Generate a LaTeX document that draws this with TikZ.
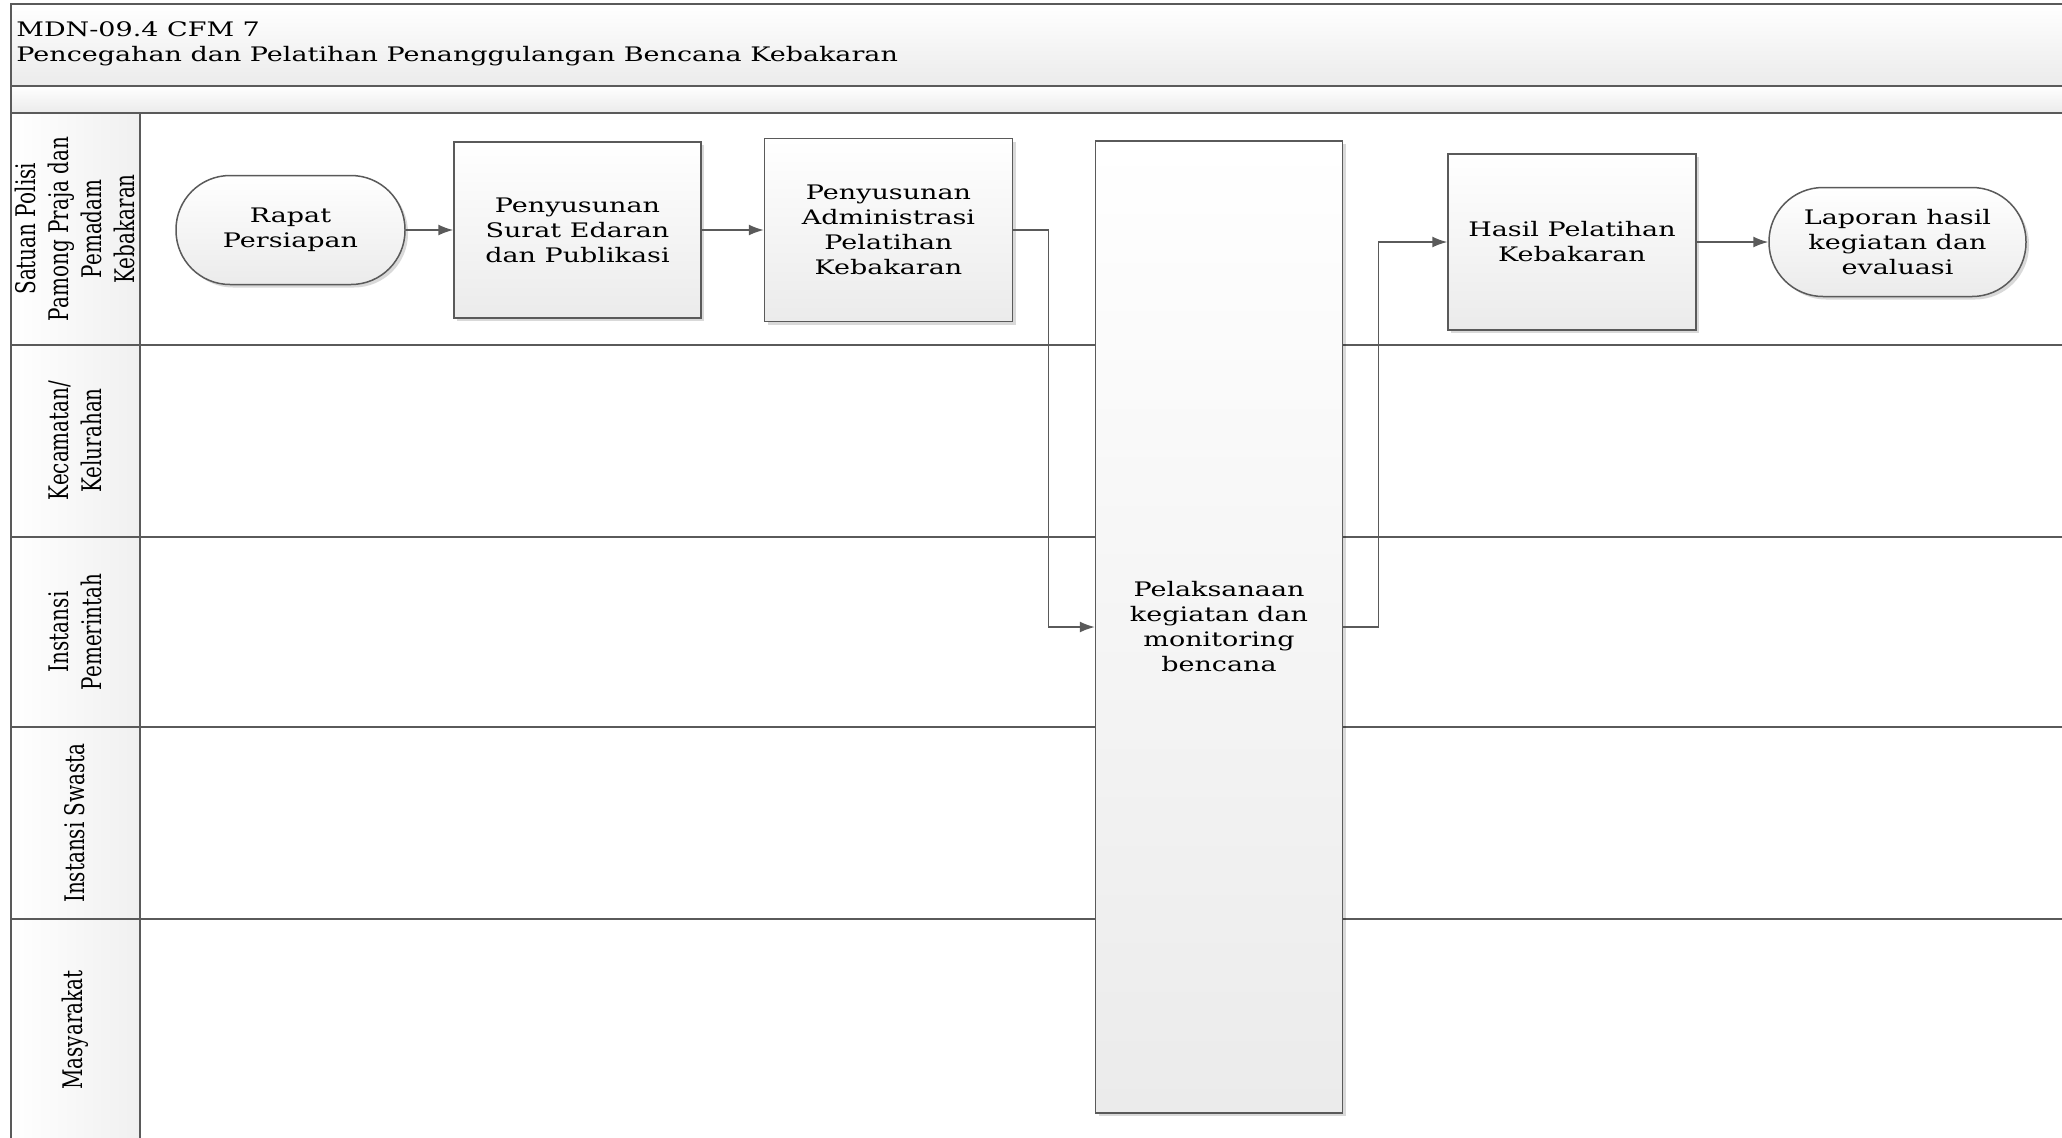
\documentclass[tikz,border=0pt]{standalone}
\usepackage{fontspec}
\setmainfont{DejaVu Serif}[FakeStretch=1.35]
\newfontfamily\lanefont{DejaVu Serif}[FakeStretch=0.74]
\usetikzlibrary{arrows.meta,shadows}

\definecolor{linegray}{HTML}{5A5A5A}
\definecolor{fillgray}{HTML}{EBEBEB}
\definecolor{lanegray}{HTML}{F0F0F0}

\tikzset{
  process/.style={rectangle, draw=linegray, line width=0.75pt, top color=white, bottom color=fillgray,
    minimum width=124pt, minimum height=88pt, inner sep=2pt, align=center,
    font=\fontsize{10}{12.5}\selectfont,
    drop shadow={shadow xshift=1.5pt, shadow yshift=-1.5pt, opacity=0.15, fill=black}},
  terminal/.style={process, rounded corners=27pt, minimum height=54.5pt},
  lane/.style={draw=linegray, line width=1pt},
  lanelabel/.style={rotate=90, align=center, inner sep=0pt, font=\lanefont\fontsize{13.5}{16.5}\selectfont},
  flow/.style={draw=linegray, line width=0.75pt, -{Latex[length=7.5pt,width=5.5pt]}},
}

\begin{document}
\begin{tikzpicture}[x=0.5pt, y=-0.5pt]
        \clip (0,0) rectangle (2062,1137);

        % Header
        \draw[lane, top color=white, bottom color=fillgray] (10.5,4) rectangle (2080,85.5);
        \draw[lane, top color=white, bottom color=fillgray] (10.5,85.5) rectangle (2080,113);
        \node (title) at (16,44) [anchor=west, align=left, inner sep=0pt, font=\fontsize{10}{12.5}\selectfont]
          {MDN-09.4 CFM 7\\Pencegahan dan Pelatihan Penanggulangan Bencana Kebakaran};

        % Lanes
        \foreach \ya/\yb in {113/344.5, 344.5/536.5, 536.5/727, 727/919, 919/1150} {
          \draw[lane] (10.5,\ya) rectangle (2080,\yb);
          \draw[lane, left color=white, right color=lanegray] (10.5,\ya) rectangle (139.5,\yb);
        }
        \node (satpol)  at (75,228.8) [lanelabel] {Satuan Polisi\\Pamong Praja dan\\Pemadam\\Kebakaran};
        \node (kec)     at (75,440.5) [lanelabel] {Kecamatan/\\Kelurahan};
        \node (pemda)   at (75,631.8) [lanelabel] {Instansi\\Pemerintah};
        \node (swasta)  at (75,823)   [lanelabel] {Instansi Swasta};
        \node (masy)    at (75,1030)  [lanelabel] {Masyarakat};

        % Nodes
        \node (rapat)   at (290.5,230)   [terminal, minimum width=114.5pt] {Rapat\\Persiapan};
        \node (surat)   at (577.5,230)   [process, minimum width=123.5pt] {Penyusunan\\Surat Edaran\\dan Publikasi};
        \node (admin)   at (888.5,230)   [process, minimum height=91.5pt] {Penyusunan\\Administrasi\\Pelatihan\\Kebakaran};
        \node (pelak)   at (1219,627)    [process, minimum width=123.5pt, minimum height=486pt] {Pelaksanaan\\kegiatan dan\\monitoring\\bencana};
        \node (hasil)   at (1572,242)    [process] {Hasil Pelatihan\\Kebakaran};
        \node (laporan) at (1897.5,242)  [terminal, minimum width=128.5pt] {Laporan hasil\\kegiatan dan\\evaluasi};

        % Edges
        \draw[flow] (rapat) -- (surat);
        \draw[flow] (surat) -- (admin);
        \draw[flow] (admin.east) -- ++(35,0) |- (pelak.west);
        \draw[flow] (pelak.east) -- ++(35,0) |- (hasil.west);
        \draw[flow] (hasil) -- (laporan);
\end{tikzpicture}
\end{document}
